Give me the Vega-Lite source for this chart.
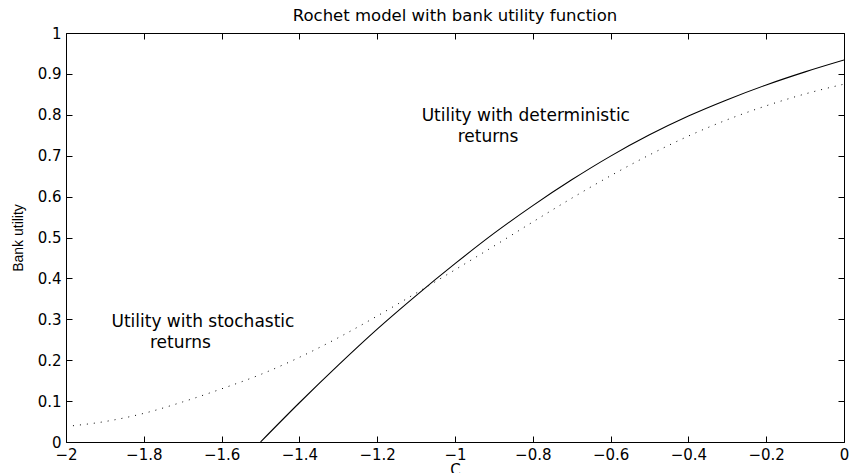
{
  "$schema": "https://vega.github.io/schema/vega-lite/v6.json",
  "width": 778,
  "height": 409,
  "autosize": {"type": "none"},
  "padding": {"left": 66, "top": 33, "right": 7, "bottom": 31},
  "background": "white",
  "title": {
    "text": "Rochet model with bank utility function",
    "font": "DejaVu Sans",
    "fontSize": 16.5,
    "fontWeight": "normal",
    "color": "black",
    "anchor": "middle",
    "offset": 2
  },
  "datasets": {
    "utility": [
      {"c": -1.5, "u": 0.000, "series": "deterministic"},
      {"c": -1.4, "u": 0.096, "series": "deterministic"},
      {"c": -1.3, "u": 0.188, "series": "deterministic"},
      {"c": -1.2, "u": 0.276, "series": "deterministic"},
      {"c": -1.1, "u": 0.358, "series": "deterministic"},
      {"c": -1.0, "u": 0.436, "series": "deterministic"},
      {"c": -0.9, "u": 0.510, "series": "deterministic"},
      {"c": -0.8, "u": 0.578, "series": "deterministic"},
      {"c": -0.7, "u": 0.641, "series": "deterministic"},
      {"c": -0.6, "u": 0.699, "series": "deterministic"},
      {"c": -0.5, "u": 0.751, "series": "deterministic"},
      {"c": -0.4, "u": 0.797, "series": "deterministic"},
      {"c": -0.3, "u": 0.837, "series": "deterministic"},
      {"c": -0.2, "u": 0.873, "series": "deterministic"},
      {"c": -0.1, "u": 0.905, "series": "deterministic"},
      {"c": 0.0, "u": 0.934, "series": "deterministic"},
      {"c": -2.0, "u": 0.038, "series": "stochastic"},
      {"c": -1.9, "u": 0.050, "series": "stochastic"},
      {"c": -1.8, "u": 0.070, "series": "stochastic"},
      {"c": -1.7, "u": 0.098, "series": "stochastic"},
      {"c": -1.6, "u": 0.130, "series": "stochastic"},
      {"c": -1.5, "u": 0.165, "series": "stochastic"},
      {"c": -1.4, "u": 0.207, "series": "stochastic"},
      {"c": -1.3, "u": 0.255, "series": "stochastic"},
      {"c": -1.2, "u": 0.308, "series": "stochastic"},
      {"c": -1.1, "u": 0.364, "series": "stochastic"},
      {"c": -1.0, "u": 0.421, "series": "stochastic"},
      {"c": -0.9, "u": 0.479, "series": "stochastic"},
      {"c": -0.8, "u": 0.538, "series": "stochastic"},
      {"c": -0.7, "u": 0.596, "series": "stochastic"},
      {"c": -0.6, "u": 0.651, "series": "stochastic"},
      {"c": -0.5, "u": 0.702, "series": "stochastic"},
      {"c": -0.4, "u": 0.748, "series": "stochastic"},
      {"c": -0.3, "u": 0.788, "series": "stochastic"},
      {"c": -0.2, "u": 0.822, "series": "stochastic"},
      {"c": -0.1, "u": 0.851, "series": "stochastic"},
      {"c": 0.0, "u": 0.875, "series": "stochastic"}
    ],
    "notes": [
      {"c": -0.818, "u": 0.797, "label": "Utility with deterministic"},
      {"c": -0.915, "u": 0.746, "label": "returns"},
      {"c": -1.648, "u": 0.294, "label": "Utility with stochastic"},
      {"c": -1.706, "u": 0.243, "label": "returns"}
    ]
  },
  "layer": [
    {
      "data": {"name": "utility"},
      "transform": [{"filter": "datum.series === 'deterministic'"}],
      "mark": {"type": "line", "color": "black", "strokeWidth": 1.1, "interpolate": "monotone", "clip": true},
      "encoding": {
        "x": {
          "field": "c", "type": "quantitative",
          "scale": {"domain": [-2, 0], "nice": false, "zero": false},
          "axis": {
            "orient": "bottom",
            "values": [-2, -1.8, -1.6, -1.4, -1.2, -1, -0.8, -0.6, -0.4, -0.2, 0],
            "format": "~g",
            "title": "C",
            "titleFontWeight": "normal",
            "titleFontSize": 15,
            "titlePadding": 0
          }
        },
        "y": {
          "field": "u", "type": "quantitative",
          "scale": {"domain": [0, 1], "nice": false, "zero": false},
          "axis": {
            "orient": "left",
            "values": [0, 0.1, 0.2, 0.3, 0.4, 0.5, 0.6, 0.7, 0.8, 0.9, 1],
            "format": "~g",
            "title": "Bank utility",
            "titleFont": "Liberation Sans",
            "titleFontWeight": "normal",
            "titleFontSize": 14,
            "titlePadding": 12
          }
        }
      }
    },
    {
      "data": {"name": "utility"},
      "transform": [{"filter": "datum.series === 'stochastic'"}],
      "mark": {"type": "line", "color": "black", "strokeWidth": 1, "strokeDash": [1, 6], "interpolate": "monotone", "clip": true},
      "encoding": {
        "x": {
          "field": "c", "type": "quantitative",
          "scale": {"domain": [-2, 0], "nice": false, "zero": false},
          "axis": {
            "orient": "top",
            "values": [-2, -1.8, -1.6, -1.4, -1.2, -1, -0.8, -0.6, -0.4, -0.2, 0],
            "labels": false,
            "title": null
          }
        },
        "y": {
          "field": "u", "type": "quantitative",
          "scale": {"domain": [0, 1], "nice": false, "zero": false},
          "axis": {
            "orient": "right",
            "values": [0, 0.1, 0.2, 0.3, 0.4, 0.5, 0.6, 0.7, 0.8, 0.9, 1],
            "labels": false,
            "title": null
          }
        }
      }
    },
    {
      "data": {"name": "notes"},
      "mark": {"type": "text", "font": "DejaVu Sans", "fontSize": 17, "color": "black", "align": "center", "baseline": "middle"},
      "encoding": {
        "x": {"field": "c", "type": "quantitative", "axis": null},
        "y": {"field": "u", "type": "quantitative", "axis": null},
        "text": {"field": "label"}
      }
    }
  ],
  "resolve": {"axis": {"x": "independent", "y": "independent"}},
  "config": {
    "view": {"stroke": null},
    "axis": {
      "grid": false,
      "domainColor": "black",
      "domainWidth": 1,
      "tickColor": "black",
      "tickWidth": 1,
      "tickSize": -6,
      "labelFont": "DejaVu Sans",
      "labelFontSize": 15,
      "labelColor": "black",
      "labelPadding": 11,
      "labelFlush": false,
      "labelOverlap": false,
      "titleFont": "DejaVu Sans",
      "titleColor": "black"
    }
  }
}
